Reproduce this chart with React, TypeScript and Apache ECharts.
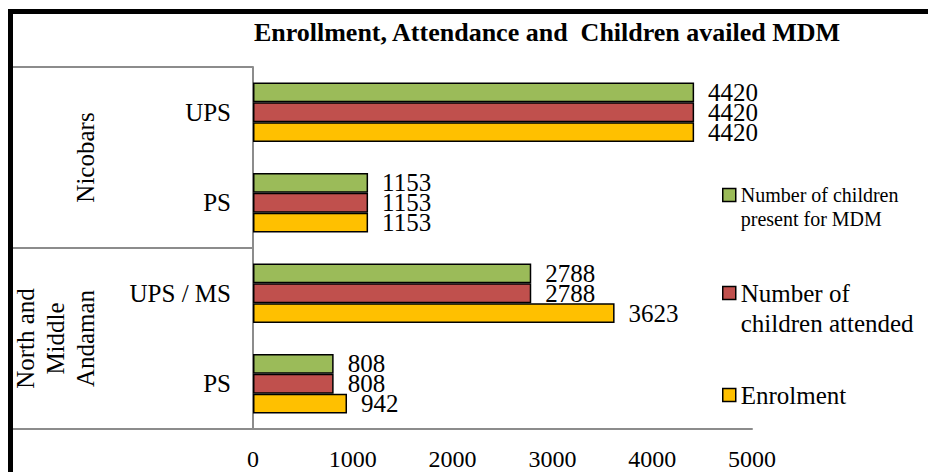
import React, { useEffect, useRef } from "react";
import * as echarts from "echarts";

// Categories listed bottom-to-top (ECharts category y-axis order)
const subCategories = ["PS", "UPS / MS", "PS", "UPS"];
const groupCategories = ["North and\nMiddle\nAndaman", "Nicobars"];

const enrolment = [942, 3623, 1153, 4420];
const attended = [808, 2788, 1153, 4420];
const presentMDM = [808, 2788, 1153, 4420];

const xTicks = { min: 0, max: 5000, interval: 1000 };

const titleText = "Enrollment, Attendance and  Children availed MDM";
const nameEnrol = "Enrolment";
const nameAttended = "Number of children attended";
const namePresent = "Number of children present for MDM";

const FONT = "'Liberation Serif', 'Times New Roman', serif";
const GRAY = "#8c8c8c";

export default function App() {
  const ref = useRef<HTMLDivElement>(null);
  useEffect(() => {
    if (!ref.current) return;
    const chart = echarts.init(ref.current, null, { renderer: "svg" });
    const labelStyle = {
      show: true,
      position: "right",
      distance: 14,
      fontFamily: FONT,
      fontSize: 25,
      color: "#000",
    };
    const barCommon = (name: string, data: number[], color: string) => ({
      name,
      type: "bar",
      data,
      barGap: "0%",
      barCategoryGap: "34%",
      itemStyle: { color, borderColor: "#000", borderWidth: 1.5 },
      label: labelStyle,
    });
    const legendBase = {
      orient: "vertical",
      left: 722,
      padding: 0,
      icon: "rect",
      itemWidth: 13,
      itemHeight: 13,
      itemGap: 5,
      selectedMode: false,
      itemStyle: { borderColor: "#000", borderWidth: 1.5 },
    };
    chart.setOption({
      animation: false,
      backgroundColor: "#fff",
      textStyle: { fontFamily: FONT },
      title: {
        text: titleText,
        left: 542,
        textAlign: "center",
        top: 14,
        textStyle: {
          fontFamily: FONT,
          fontWeight: "bold",
          fontSize: 26,
          color: "#000",
        },
      },
      legend: [
        {
          ...legendBase,
          top: 159,
          data: [namePresent],
          formatter: () => "\nNumber of children\npresent for MDM",
          textStyle: {
            fontFamily: FONT,
            fontSize: 20,
            lineHeight: 24,
            color: "#000",
          },
        },
        {
          ...legendBase,
          top: 248,
          data: [nameAttended],
          formatter: () => "\nNumber of\nchildren attended",
          textStyle: {
            fontFamily: FONT,
            fontSize: 25,
            lineHeight: 30,
            color: "#000",
          },
        },
        {
          ...legendBase,
          top: 380,
          data: [nameEnrol],
          textStyle: {
            fontFamily: FONT,
            fontSize: 25,
            lineHeight: 30,
            color: "#000",
          },
        },
      ],
      grid: { left: 253, right: 176, top: 67, bottom: 43, containLabel: false },
      xAxis: {
        type: "value",
        min: xTicks.min,
        max: xTicks.max,
        interval: xTicks.interval,
        splitLine: { show: false },
        axisTick: { show: false },
        axisLine: { show: true, lineStyle: { color: GRAY, width: 2 } },
        axisLabel: {
          fontFamily: FONT,
          fontSize: 24,
          color: "#000",
          margin: 18,
          formatter: (v: number) => String(v),
        },
      },
      yAxis: [
        {
          type: "category",
          data: subCategories,
          position: "left",
          axisLine: { show: true, lineStyle: { color: GRAY, width: 2 } },
          axisTick: { show: false },
          axisLabel: {
            fontFamily: FONT,
            fontSize: 25,
            color: "#000",
            margin: 22,
          },
        },
        {
          type: "category",
          data: groupCategories,
          position: "left",
          axisLine: { show: false },
          axisTick: {
            show: true,
            length: 240,
            lineStyle: { color: GRAY, width: 2 },
          },
          axisLabel: {
            rotate: 90,
            fontFamily: FONT,
            fontSize: 25,
            lineHeight: 30,
            color: "#000",
            margin: 153,
            align: "center",
          },
        },
      ],
      series: [
        barCommon(namePresent, presentMDM, "#9BBB59"),
        barCommon(nameAttended, attended, "#C0504D"),
        barCommon(nameEnrol, enrolment, "#FFC000"),
      ],
    });
    return () => chart.dispose();
  }, []);
  return (
    <div
      style={{
        position: "fixed",
        left: 0,
        top: 0,
        width: 928,
        height: 472,
        overflow: "hidden",
        background: "#fff",
      }}
    >
      <div
        ref={ref}
        style={{ position: "absolute", left: 0, top: 0, width: 928, height: 472 }}
      />
      <div
        style={{
          position: "absolute",
          left: 8,
          top: 9,
          width: 1200,
          height: 1000,
          borderLeft: "5px solid #000",
          borderTop: "5px solid #000",
          pointerEvents: "none",
        }}
      />
    </div>
  );
}
